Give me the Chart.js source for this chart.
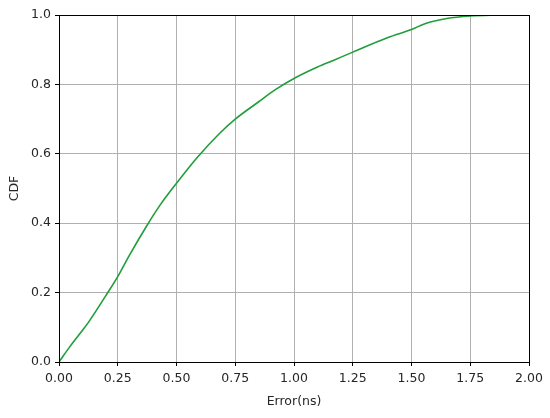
<!DOCTYPE html>
<html>
<head>
<meta charset="utf-8">
<script src="https://cdn.jsdelivr.net/npm/chart.js@4"></script>
<style>
  html, body { margin: 0; padding: 0; background: #fff; }
  #wrap { width: 550px; height: 418px; }
</style>
</head>
<body>
<div id="wrap"><canvas id="cdfChart" width="550" height="418"></canvas></div>
<script>
// error values (ns) and cumulative fraction
const errorNs = [0, 0.047, 0.096, 0.126, 0.2, 0.25, 0.3, 0.373, 0.43, 0.5, 0.589, 0.685, 0.75, 0.85, 0.919, 1.0, 1.1, 1.167, 1.25, 1.4, 1.5, 1.557, 1.65, 1.75, 1.88];
const cdfValues = [0, 0.045, 0.088, 0.115, 0.192, 0.246, 0.308, 0.392, 0.452, 0.515, 0.59, 0.66, 0.7, 0.75, 0.784, 0.817, 0.85, 0.869, 0.893, 0.935, 0.958, 0.975, 0.99, 0.997, 1.0];
const xTicks = [0, 0.25, 0.5, 0.75, 1.0, 1.25, 1.5, 1.75, 2.0];
const yTicks = [0, 0.2, 0.4, 0.6, 0.8, 1.0];

const points = errorNs.map((x, i) => ({ x: x, y: cdfValues[i] }));

// black frame round the plot area, like the matplotlib spines
const frame = {
  id: 'frame',
  afterDraw(chart) {
    const a = chart.chartArea;
    const c = chart.ctx;
    c.save();
    c.strokeStyle = '#000';
    c.lineWidth = 1;
    c.strokeRect(a.left + 0.5, a.top + 0.5, a.right - a.left, a.bottom - a.top);
    c.restore();
  }
};

const tickFont = { family: 'DejaVu Sans', size: 12.5 };

new Chart(document.getElementById('cdfChart'), {
  type: 'line',
  data: {
    datasets: [{
      data: points,
      borderColor: '#1f9e3a',
      borderWidth: 1.6,
      pointRadius: 0,
      cubicInterpolationMode: 'monotone',
      fill: false
    }]
  },
  options: {
    responsive: false,
    animation: false,
    layout: { padding: { top: 15, right: 21, left: 0, bottom: 0 } },
    plugins: { legend: { display: false }, tooltip: { enabled: false } },
    scales: {
      x: {
        type: 'linear',
        min: 0,
        max: 2,
        afterBuildTicks: s => { s.ticks = xTicks.map(v => ({ value: v })); },
        afterFit: s => { s.height = 56; },
        ticks: {
          color: '#262626',
          font: tickFont,
          padding: 5,
          maxRotation: 0,
          callback: v => v.toFixed(2)
        },
        grid: { color: '#b0b0b0', lineWidth: 1, tickLength: 4, tickColor: '#000' },
        border: { color: '#000' },
        title: { display: true, text: 'Error(ns)', color: '#262626', font: tickFont, padding: { top: 4, bottom: 8.5 } }
      },
      y: {
        min: 0,
        max: 1,
        afterBuildTicks: s => { s.ticks = yTicks.map(v => ({ value: v })); },
        afterFit: s => { s.width = 59; },
        ticks: {
          color: '#262626',
          font: tickFont,
          padding: 4,
          callback: v => v.toFixed(1)
        },
        grid: { color: '#b0b0b0', lineWidth: 1, tickLength: 4, tickColor: '#000' },
        border: { color: '#000' },
        title: { display: true, text: 'CDF', color: '#262626', font: tickFont, padding: { top: 7.5, bottom: 0 } }
      }
    }
  },
  plugins: [frame]
});
</script>
</body>
</html>
